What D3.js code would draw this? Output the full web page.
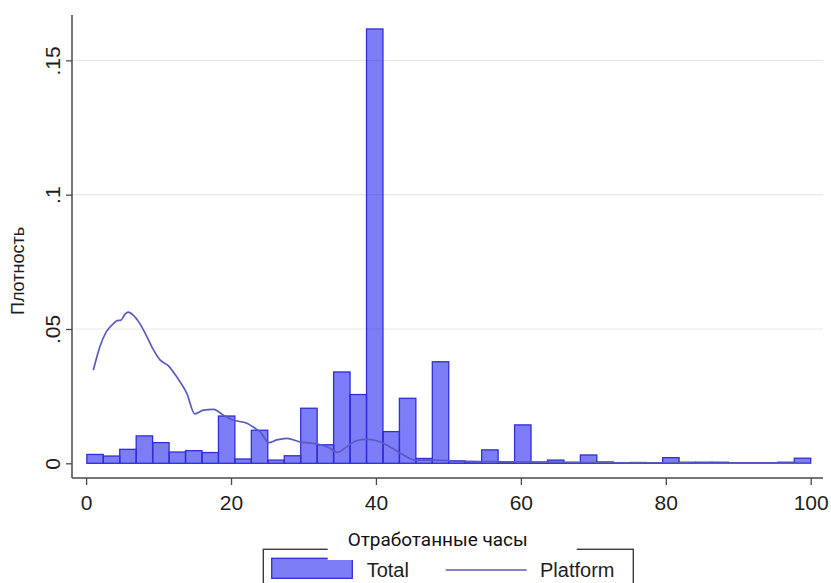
<!DOCTYPE html>
<html>
<head>
<meta charset="utf-8">
<script src="https://cdn.jsdelivr.net/npm/d3@7"></script>
<style>
  html, body { margin: 0; padding: 0; background: #fff; }
  svg { display: block; }
</style>
</head>
<body>
<div id="chart"></div>
<script>
// Histogram of hours worked (Total) with the density curve for platform workers.
const binStart = 0.1;
const binEnd = 100;
const totalDensity = [
  0.0033, 0.0027, 0.0052, 0.0102, 0.0077, 0.0042, 0.0047, 0.0040, 0.0176, 0.0016,
  0.0123, 0.0012, 0.0028, 0.0205, 0.0069, 0.0340, 0.0256, 0.1617, 0.0118, 0.0242,
  0.0018, 0.0378, 0.0009, 0.0006, 0.0050, 0.0004, 0.0143, 0.0004, 0.0012, 0.0003,
  0.0031, 0.0005, 0.0002, 0.0003, 0.0002, 0.0021, 0.0004, 0.0004, 0.0004, 0.0002,
  0.0002, 0.0002, 0.0004, 0.0019
];

const platformHours = [
  1.0, 1.9, 2.8, 3.8, 4.3, 4.8, 5.4, 5.8, 6.5, 7.4, 8.4, 9.3, 10.2, 11.4, 12.5,
  13.9, 15.0, 16.2, 17.6, 18.9, 20.3, 22.2, 23.5, 24.0, 25.2, 26.3, 27.7, 29.5,
  31.8, 33.4, 34.7, 36.0, 37.3, 38.7, 40.1, 41.9, 43.8, 45.4, 47.5, 50, 53, 56,
  60, 65, 70, 75, 80, 85, 90, 95, 100
];
const platformDensity = [
  0.0347, 0.0434, 0.0490, 0.0521, 0.0531, 0.0533, 0.0556, 0.0563, 0.0552, 0.0521,
  0.0471, 0.0422, 0.0385, 0.0362, 0.0322, 0.0260, 0.0184, 0.0198, 0.0201, 0.0180,
  0.0161, 0.0149, 0.0127, 0.0118, 0.0077, 0.0087, 0.0093, 0.0080, 0.0072, 0.0060,
  0.0041, 0.0062, 0.0084, 0.0089, 0.0084, 0.0062, 0.0031, 0.0012, 0.0012, 0.0010,
  0.0007, 0.0006, 0.0005, 0.0004, 0.0003, 0.0002, 0.0002, 0.0001, 0.0001, 0.0001,
  0.0001
];

const xTicks = [0, 20, 40, 60, 80, 100];
const xTickLabels = ["0", "20", "40", "60", "80", "100"];
const yTicks = [0, 0.05, 0.1, 0.15];
const yTickLabels = ["0", ".05", ".1", ".15"];

const xTitle = "Отработанные часы";
const yTitle = "Плотность";
const legendLabels = ["Total", "Platform"];

const W = 831, H = 583;
const frame = { left: 72, right: 823, top: 15, bottom: 478 };

const x = d3.scaleLinear().domain([0, 100]).range([86.1, 810.7]);
const y = d3.scaleLinear().domain([0, 0.15]).range([463.3, 60.4]);

const barFill = "rgba(0, 0, 240, 0.51)";
const barStroke = "#2f2fd8";
const lineColor = "#5a5ac0";
const axisColor = "#4a4a4a";
const textColor = "#1e1e1e";
const fontMain = "Arial, 'Liberation Sans', Helvetica, sans-serif";

const svg = d3.select("#chart").append("svg")
  .attr("width", W).attr("height", H)
  .attr("viewBox", `0 0 ${W} ${H}`);

svg.append("rect").attr("width", W).attr("height", H).attr("fill", "#fff");

// Horizontal gridlines
svg.append("g").selectAll("line")
  .data(yTicks.filter(d => d > 0))
  .join("line")
  .attr("x1", frame.left).attr("x2", frame.right)
  .attr("y1", d => y(d)).attr("y2", d => y(d))
  .attr("stroke", "#e9e9e9").attr("stroke-width", 1.2);

// Histogram bars
const binWidth = (binEnd - binStart) / totalDensity.length;
const bins = totalDensity.map((v, i) => ({
  x0: binStart + i * binWidth,
  x1: binStart + (i + 1) * binWidth,
  v
}));
svg.append("g").selectAll("rect")
  .data(bins)
  .join("rect")
  .attr("x", d => x(d.x0))
  .attr("width", d => x(d.x1) - x(d.x0))
  .attr("y", d => y(d.v))
  .attr("height", d => y(0) - y(d.v))
  .attr("fill", barFill)
  .attr("stroke", barStroke)
  .attr("stroke-width", 1.3);

// Platform density curve
const line = d3.line()
  .x(d => x(d[0]))
  .y(d => y(d[1]))
  .curve(d3.curveMonotoneX);
svg.append("path")
  .datum(platformHours.map((h, i) => [h, platformDensity[i]]))
  .attr("d", line)
  .attr("fill", "none")
  .attr("stroke", lineColor)
  .attr("stroke-width", 1.7);

// Y axis
const yAxis = d3.axisLeft(y)
  .tickValues(yTicks)
  .tickFormat((d, i) => yTickLabels[i])
  .tickSize(6)
  .tickSizeOuter(0);
const gy = svg.append("g").attr("transform", `translate(${frame.left},0)`).call(yAxis);
gy.select(".domain").remove();
gy.selectAll(".tick line").attr("stroke", axisColor).attr("stroke-width", 1.3);
gy.selectAll(".tick text")
  .attr("x", 0).attr("y", 0).attr("dy", null)
  .attr("transform", "translate(-12,0) rotate(-90)")
  .attr("text-anchor", "middle")
  .attr("fill", textColor)
  .style("font-family", fontMain)
  .style("font-size", "21px");
svg.append("line")
  .attr("x1", frame.left).attr("x2", frame.left)
  .attr("y1", frame.top).attr("y2", frame.bottom)
  .attr("stroke", axisColor).attr("stroke-width", 1.5);

// X axis
const xAxis = d3.axisBottom(x)
  .tickValues(xTicks)
  .tickFormat((d, i) => xTickLabels[i])
  .tickSize(7)
  .tickSizeOuter(0);
const gx = svg.append("g").attr("transform", `translate(0,${frame.bottom})`).call(xAxis);
gx.select(".domain").remove();
gx.selectAll(".tick line").attr("stroke", axisColor).attr("stroke-width", 1.3);
gx.selectAll(".tick text")
  .attr("y", 32).attr("dy", null)
  .attr("fill", textColor)
  .style("font-family", fontMain)
  .style("font-size", "21px");
svg.append("line")
  .attr("x1", frame.left).attr("x2", frame.right)
  .attr("y1", frame.bottom).attr("y2", frame.bottom)
  .attr("stroke", axisColor).attr("stroke-width", 1.5);

// Y axis title
svg.append("text")
  .attr("transform", "translate(24,271) rotate(-90)")
  .attr("text-anchor", "middle")
  .attr("fill", textColor)
  .style("font-family", fontMain)
  .style("font-size", "18px")
  .text(yTitle);

// Legend
const lg = svg.append("g");
lg.append("rect")
  .attr("x", 263.3).attr("y", 549.3)
  .attr("width", 370).attr("height", 60)
  .attr("fill", "#fff")
  .attr("stroke", "#3c3c3c").attr("stroke-width", 1.4);
lg.append("rect")
  .attr("x", 271.7).attr("y", 558.3)
  .attr("width", 80.6).attr("height", 20)
  .attr("fill", barFill)
  .attr("stroke", barStroke).attr("stroke-width", 1.3);
lg.append("text")
  .attr("x", 366.7).attr("y", 576.7)
  .attr("fill", textColor)
  .style("font-family", fontMain)
  .style("font-size", "20px")
  .text(legendLabels[0]);
lg.append("line")
  .attr("x1", 445.7).attr("x2", 526.7)
  .attr("y1", 570).attr("y2", 570)
  .attr("stroke", lineColor).attr("stroke-width", 1.7);
lg.append("text")
  .attr("x", 540).attr("y", 576.7)
  .attr("fill", textColor)
  .style("font-family", fontMain)
  .style("font-size", "20px")
  .text(legendLabels[1]);

// X axis title on its own white panel
svg.append("rect")
  .attr("x", 327.7).attr("y", 524)
  .attr("width", 249).attr("height", 36)
  .attr("fill", "#fff");
svg.append("text")
  .attr("x", 437.7).attr("y", 545.5)
  .attr("text-anchor", "middle")
  .attr("fill", "#111")
  .style("font-family", "Roboto, 'Noto Sans', sans-serif")
  .style("font-size", "18.5px")
  .attr("textLength", 180)
  .attr("lengthAdjust", "spacingAndGlyphs")
  .text(xTitle);
</script>
</body>
</html>
